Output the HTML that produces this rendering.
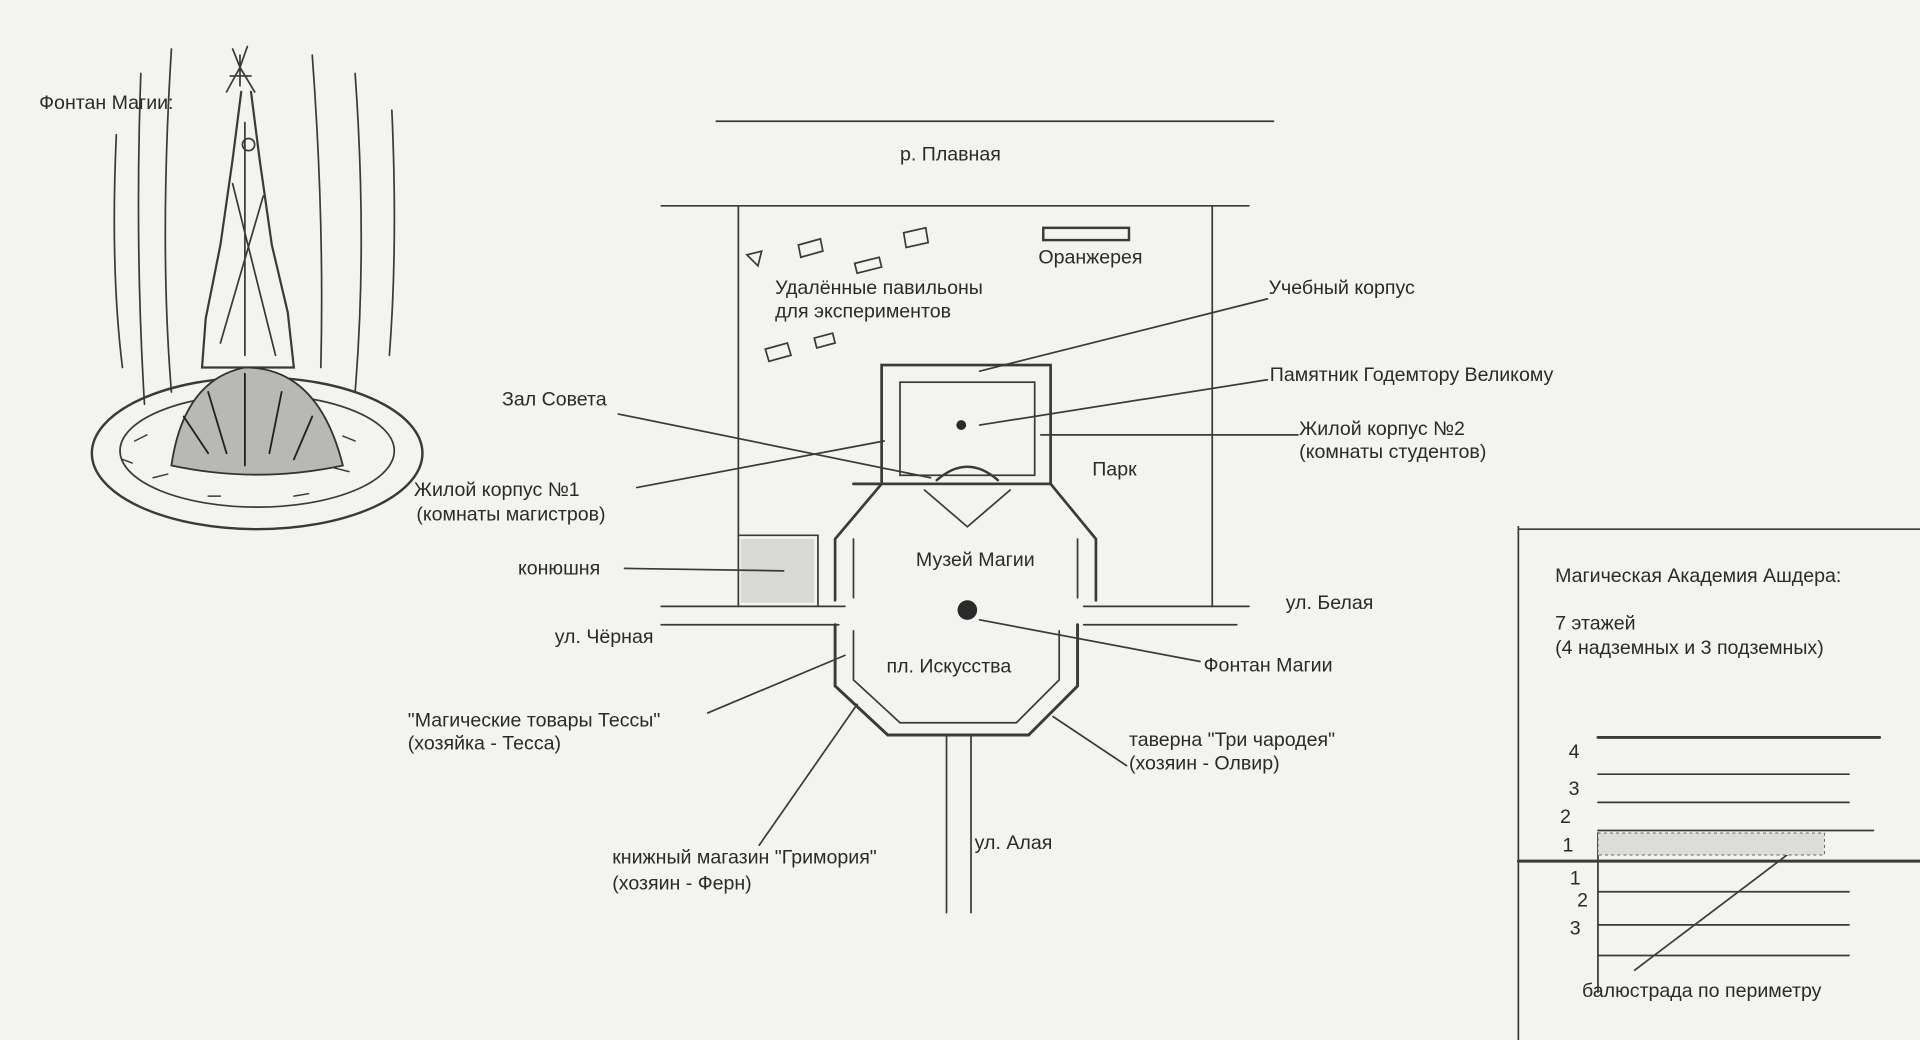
<!DOCTYPE html>
<html><head><meta charset="utf-8"><style>
html,body{margin:0;padding:0;background:#f3f3ef;}
svg{display:block}
text{font-family:"Liberation Sans",sans-serif;font-size:16px;fill:#2a2a2a}
</style></head><body>
<svg width="1920" height="1040" viewBox="0 0 1568 849" preserveAspectRatio="none" xmlns="http://www.w3.org/2000/svg">
<rect width="1568" height="849" fill="#f3f3ef"/>
<g stroke="#3a3a3a" fill="none" stroke-width="1.4" stroke-linecap="round">
<line x1="585" y1="99" x2="1040" y2="99"/>
<line x1="540" y1="168" x2="1020" y2="168"/>
<line x1="603" y1="168" x2="603" y2="495"/>
<line x1="990" y1="168" x2="990" y2="495"/>
<line x1="540" y1="495" x2="690" y2="495"/>
<line x1="885" y1="495" x2="1020" y2="495"/>
<line x1="540" y1="510" x2="685" y2="510"/>
<line x1="885" y1="510" x2="1010" y2="510"/>
<rect x="720" y="298" width="138" height="97" stroke-width="2.2"/>
<rect x="735" y="312" width="110" height="76"/>
<path d="M720 395 L682 440 L682 490 M697 395 L720 395 M858 395 L895 440 L895 490" stroke-width="2.2"/>
<path d="M697 440 L697 488 M880 440 L880 488"/>
<path d="M765 392 Q790 370 815 392" stroke-width="2"/>
<path d="M682 510 L682 560 L725 600 L840 600 L880 560 L880 510" stroke-width="2.4"/>
<path d="M697 515 L697 555 L735 590 L830 590 L865 555 L865 515"/>
<line x1="773" y1="600" x2="773" y2="745"/>
<line x1="793" y1="600" x2="793" y2="745"/>
<path d="M603 437 L668 437 L668 495"/>
<rect x="605" y="440" width="60" height="52" fill="#d8d8d4" stroke="none"/>
<rect x="852" y="186" width="70" height="10" stroke-width="2"/>
<path d="M610 208 l12 -3 l-3 12 z M652 200 l18 -5 l2 10 l-18 5 z M698 215 l20 -5 l2 8 l-20 5 z M738 190 l18 -4 l2 12 l-18 4 z M625 285 l18 -5 l3 10 l-18 5 z M665 276 l15 -4 l2 8 l-15 4 z"/>
<line x1="1035" y1="244" x2="800" y2="303"/>
<line x1="1035" y1="310" x2="800" y2="347"/>
<line x1="1060" y1="355" x2="850" y2="355"/>
<line x1="505" y1="338" x2="760" y2="390"/>
<line x1="520" y1="398" x2="722" y2="360"/>
<line x1="755" y1="400" x2="790" y2="430"/><line x1="825" y1="400" x2="790" y2="430"/>
<line x1="510" y1="464" x2="640" y2="466"/>
<line x1="800" y1="506" x2="980" y2="540"/>
<line x1="578" y1="582" x2="690" y2="535"/>
<line x1="620" y1="690" x2="700" y2="575"/>
<line x1="920" y1="625" x2="860" y2="585"/>
<line x1="1240" y1="430" x2="1240" y2="849"/>
<line x1="1240" y1="432" x2="1568" y2="432"/>
<line x1="1305" y1="602" x2="1535" y2="602" stroke-width="2.4"/>
<line x1="1305" y1="632" x2="1510" y2="632"/>
<line x1="1305" y1="655" x2="1510" y2="655"/>
<line x1="1305" y1="678" x2="1530" y2="678"/>
<line x1="1305" y1="680" x2="1305" y2="810"/>
<line x1="1240" y1="703" x2="1568" y2="703" stroke-width="2.4"/>
<line x1="1305" y1="728" x2="1510" y2="728"/>
<line x1="1305" y1="755" x2="1510" y2="755"/>
<line x1="1305" y1="780" x2="1510" y2="780"/>
<line x1="1335" y1="792" x2="1470" y2="690"/>
<rect x="1305" y="680" width="185" height="18" fill="#dcdcd8" stroke-width="0.6" stroke-dasharray="2 3"/>
<ellipse cx="210" cy="370" rx="135" ry="62" stroke-width="2"/>
<ellipse cx="210" cy="368" rx="112" ry="46"/>
<path d="M110 360 l10 -5 M125 390 l12 -3 M290 360 l-10 -4 M285 385 l-12 -3 M170 405 l10 0 M240 405 l12 -2 M100 375 l8 3" stroke-width="1.2"/>
<path d="M197 75 L190 130 L180 200 L168 260 L165 300 L240 300 L235 255 L222 200 L212 130 L205 75" stroke-width="1.8"/>
<path d="M190 150 L225 290 M215 160 L180 280 M200 100 L200 290"/>
<circle cx="203" cy="118" r="5"/>
<path d="M185 75 L196 55 L208 75 M188 62 L205 62 M196 45 L196 70 M190 40 L196 55 L202 38"/>
<path d="M140 380 Q150 310 200 300 Q260 300 280 380 Q210 395 140 380 Z" fill="#b8b8b4" stroke="#333" stroke-width="1.5"/>
<path d="M150 340 l20 30 M170 320 l15 50 M230 320 l-10 50 M255 340 l-15 35 M200 305 l0 75" stroke="#222" stroke-width="1.5"/>
<path d="M115 60 Q110 200 118 330 M140 40 Q130 200 140 320 M255 45 Q265 180 262 300 M290 60 Q300 200 290 320 M320 90 Q325 200 318 290 M95 110 Q90 220 100 300"/>
</g>
<circle cx="790" cy="498" r="8" fill="#2a2a2a"/>
<circle cx="785" cy="347" r="4" fill="#2a2a2a"/>
<g>
<text x="32" y="89">Фонтан Магии:</text>
<text x="735" y="131">р. Плавная</text>
<text x="848" y="215">Оранжерея</text>
<text x="633" y="240">Удалённые павильоны</text>
<text x="633" y="259">для экспериментов</text>
<text x="1036" y="240">Учебный корпус</text>
<text x="1037" y="311">Памятник Годемтору Великому</text>
<text x="410" y="331">Зал Совета</text>
<text x="1061" y="355">Жилой корпус №2</text>
<text x="1061" y="374">(комнаты студентов)</text>
<text x="892" y="388">Парк</text>
<text x="338" y="405">Жилой корпус №1</text>
<text x="340" y="425">(комнаты магистров)</text>
<text x="748" y="462">Музей Магии</text>
<text x="423" y="469">конюшня</text>
<text x="1050" y="497">ул. Белая</text>
<text x="453" y="525">ул. Чёрная</text>
<text x="724" y="549">пл. Искусства</text>
<text x="983" y="548">Фонтан Магии</text>
<text x="333" y="593">"Магические товары Тессы"</text>
<text x="333" y="612">(хозяйка - Тесса)</text>
<text x="922" y="609">таверна "Три чародея"</text>
<text x="922" y="628">(хозяин - Олвир)</text>
<text x="796" y="693">ул. Алая</text>
<text x="500" y="705">книжный магазин "Гримория"</text>
<text x="500" y="726">(хозяин - Ферн)</text>
<text x="1270" y="475">Магическая Академия Ашдера:</text>
<text x="1270" y="514">7 этажей</text>
<text x="1270" y="534">(4 надземных и 3 подземных)</text>
<text x="1281" y="619">4</text>
<text x="1281" y="649">3</text>
<text x="1274" y="672">2</text>
<text x="1276" y="695">1</text>
<text x="1282" y="722">1</text>
<text x="1288" y="740">2</text>
<text x="1282" y="763">3</text>
<text x="1292" y="814">балюстрада по периметру</text>
</g>
</svg>
</body></html>
